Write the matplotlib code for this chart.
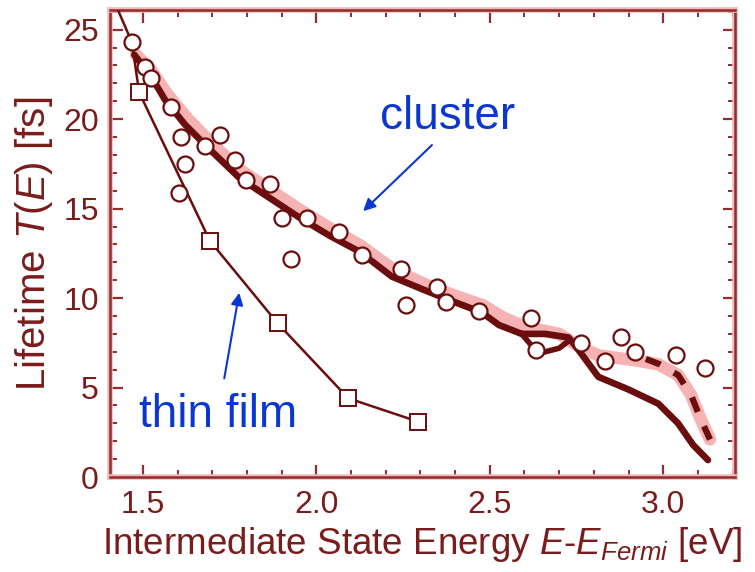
import matplotlib
matplotlib.use('Agg')
import matplotlib.pyplot as plt
import matplotlib.patheffects as pe
from matplotlib.ticker import MultipleLocator

# ---- data ----
thin_x = [1.428, 1.468, 1.489, 1.693, 1.888, 2.092, 2.293]
thin_y = [26.1, 24.3, 21.5, 13.2, 8.6, 4.4, 3.1]

circle_x = [1.468, 1.506, 1.523, 1.580, 1.609, 1.621, 1.603, 1.678, 1.723, 1.764,
            1.796, 1.865, 1.902, 1.928, 1.973, 2.066, 2.132, 2.244, 2.259, 2.348,
            2.373, 2.468, 2.618, 2.632, 2.764, 2.833, 2.879, 2.920, 3.037, 3.121]
circle_y = [24.3, 22.9, 22.3, 20.7, 19.0, 17.5, 15.9, 18.5, 19.1, 17.7,
            16.6, 16.4, 14.5, 12.2, 14.5, 13.7, 12.4, 11.6, 9.6, 10.6,
            9.8, 9.3, 8.9, 7.1, 7.5, 6.5, 7.8, 7.0, 6.8, 6.1]

fit_x = [1.475, 1.520, 1.563, 1.621, 1.693, 1.779, 1.865, 1.951, 2.037,
         2.124, 2.218, 2.305, 2.382, 2.477, 2.526, 2.592, 2.660, 2.727, 2.756,
         2.813, 2.899, 2.986, 3.043, 3.086, 3.129]
fit_y = [23.6, 22.5, 21.1, 19.7, 18.3, 16.7, 15.6, 14.5, 13.5,
         12.6, 11.2, 10.5, 9.9, 9.2, 8.5, 8.0, 8.0, 7.8, 7.1,
         5.6, 4.9, 4.1, 3.0, 1.8, 0.95]

loop_x = [2.592, 2.640, 2.700, 2.727]
loop_y = [8.0, 6.9, 7.2, 7.6]

band_x = [1.480, 1.525, 1.570, 1.630, 1.700, 1.785, 1.870, 1.955, 2.040,
          2.130, 2.222, 2.310, 2.390, 2.480, 2.540, 2.600, 2.700, 2.756, 2.813,
          2.928, 2.986, 3.043, 3.080, 3.109, 3.135]
band_y = [23.6, 22.7, 21.4, 20.0, 18.6, 17.1, 16.0, 14.9, 13.9,
          12.9, 11.6, 10.8, 10.2, 9.6, 8.9, 8.4, 8.0, 7.3, 6.8,
          6.5, 6.3, 5.7, 4.6, 3.2, 2.1]

dash_x = [2.950, 2.990, 3.043, 3.080, 3.109, 3.135]
dash_y = [6.6, 6.3, 5.7, 4.6, 3.2, 2.1]

DARK = '#6b0d0d'
AXC = '#8e2e2e'
HALO = '#f2b9b9'
TXT = '#7a1c1c'
BLUE = '#0a37d0'

plt.rcParams.update({
    'font.family': ['Liberation Sans', 'DejaVu Sans'],
    'mathtext.fontset': 'custom',
    'mathtext.rm': 'Liberation Sans',
    'mathtext.it': 'Liberation Sans:italic',
})

fig = plt.figure(figsize=(7.55, 5.72), dpi=100)
ax = fig.add_axes([0.1457, 0.166, 0.8278, 0.8165])

ax.plot(band_x, band_y, color='#f5b3b3', linewidth=9, solid_capstyle='round', zorder=1)
ax.plot(fit_x, fit_y, color=DARK, linewidth=4.8, solid_capstyle='round', zorder=2)
ax.plot(loop_x, loop_y, color=DARK, linewidth=4.0, zorder=2)
ax.plot(dash_x, dash_y, color=DARK, linewidth=4.5, dashes=(2.5, 2.5), zorder=2)

ax.plot(thin_x, thin_y, color=DARK, linewidth=1.8, marker='s', markersize=11,
        markerfacecolor='white', markeredgecolor=DARK, markeredgewidth=1.4,
        markevery=range(2, len(thin_x)), zorder=3)
ax.plot(circle_x, circle_y, linestyle='none', marker='o', markersize=11.5,
        markerfacecolor='white', markeredgecolor=DARK, markeredgewidth=1.6, zorder=4)

ax.set_xlim(1.405, 3.207)
ax.set_ylim(0, 26.1)
ax.xaxis.set_major_locator(MultipleLocator(0.5))
ax.xaxis.set_minor_locator(MultipleLocator(0.1))
ax.yaxis.set_major_locator(MultipleLocator(5))
ax.yaxis.set_minor_locator(MultipleLocator(1))
ax.xaxis.set_major_formatter(plt.FormatStrFormatter('%.1f'))
ax.tick_params(which='both', direction='in', top=True, right=True, color=AXC,
               labelcolor=TXT, labelsize=23)
ax.tick_params(which='major', length=9, width=1.6)
ax.tick_params(which='minor', length=5, width=1.4)
ax.tick_params(axis='x', pad=9)
ax.tick_params(axis='y', pad=8)
for s in ax.spines.values():
    s.set_color(AXC)
    s.set_linewidth(1.8)
    s.set_path_effects([pe.Stroke(linewidth=4, foreground=HALO), pe.Normal()])

ax.set_xlabel(r'Intermediate State Energy $\mathit{E}$-$\mathit{E}_{\mathit{Fermi}}$ [eV]',
              fontsize=26.5, color=TXT, labelpad=4)
ax.set_ylabel(r'Lifetime $\mathit{T}$($\mathit{E}$) [fs]', fontsize=29,
              color=TXT, labelpad=6)

ax.text(2.379, 20.1, 'cluster', color=BLUE, fontsize=33, ha='center', va='center')
ax.annotate('', xy=(2.129, 14.75), xytext=(2.339, 18.66),
            arrowprops=dict(arrowstyle='-|>', color=BLUE, lw=1.5, mutation_scale=18))
ax.text(1.718, 3.46, 'thin film', color=BLUE, fontsize=33, ha='center', va='center')
ax.annotate('', xy=(1.779, 10.45), xytext=(1.733, 5.36),
            arrowprops=dict(arrowstyle='-|>', color=BLUE, lw=1.5, mutation_scale=18))

fig.savefig('out.png', dpi=100)
